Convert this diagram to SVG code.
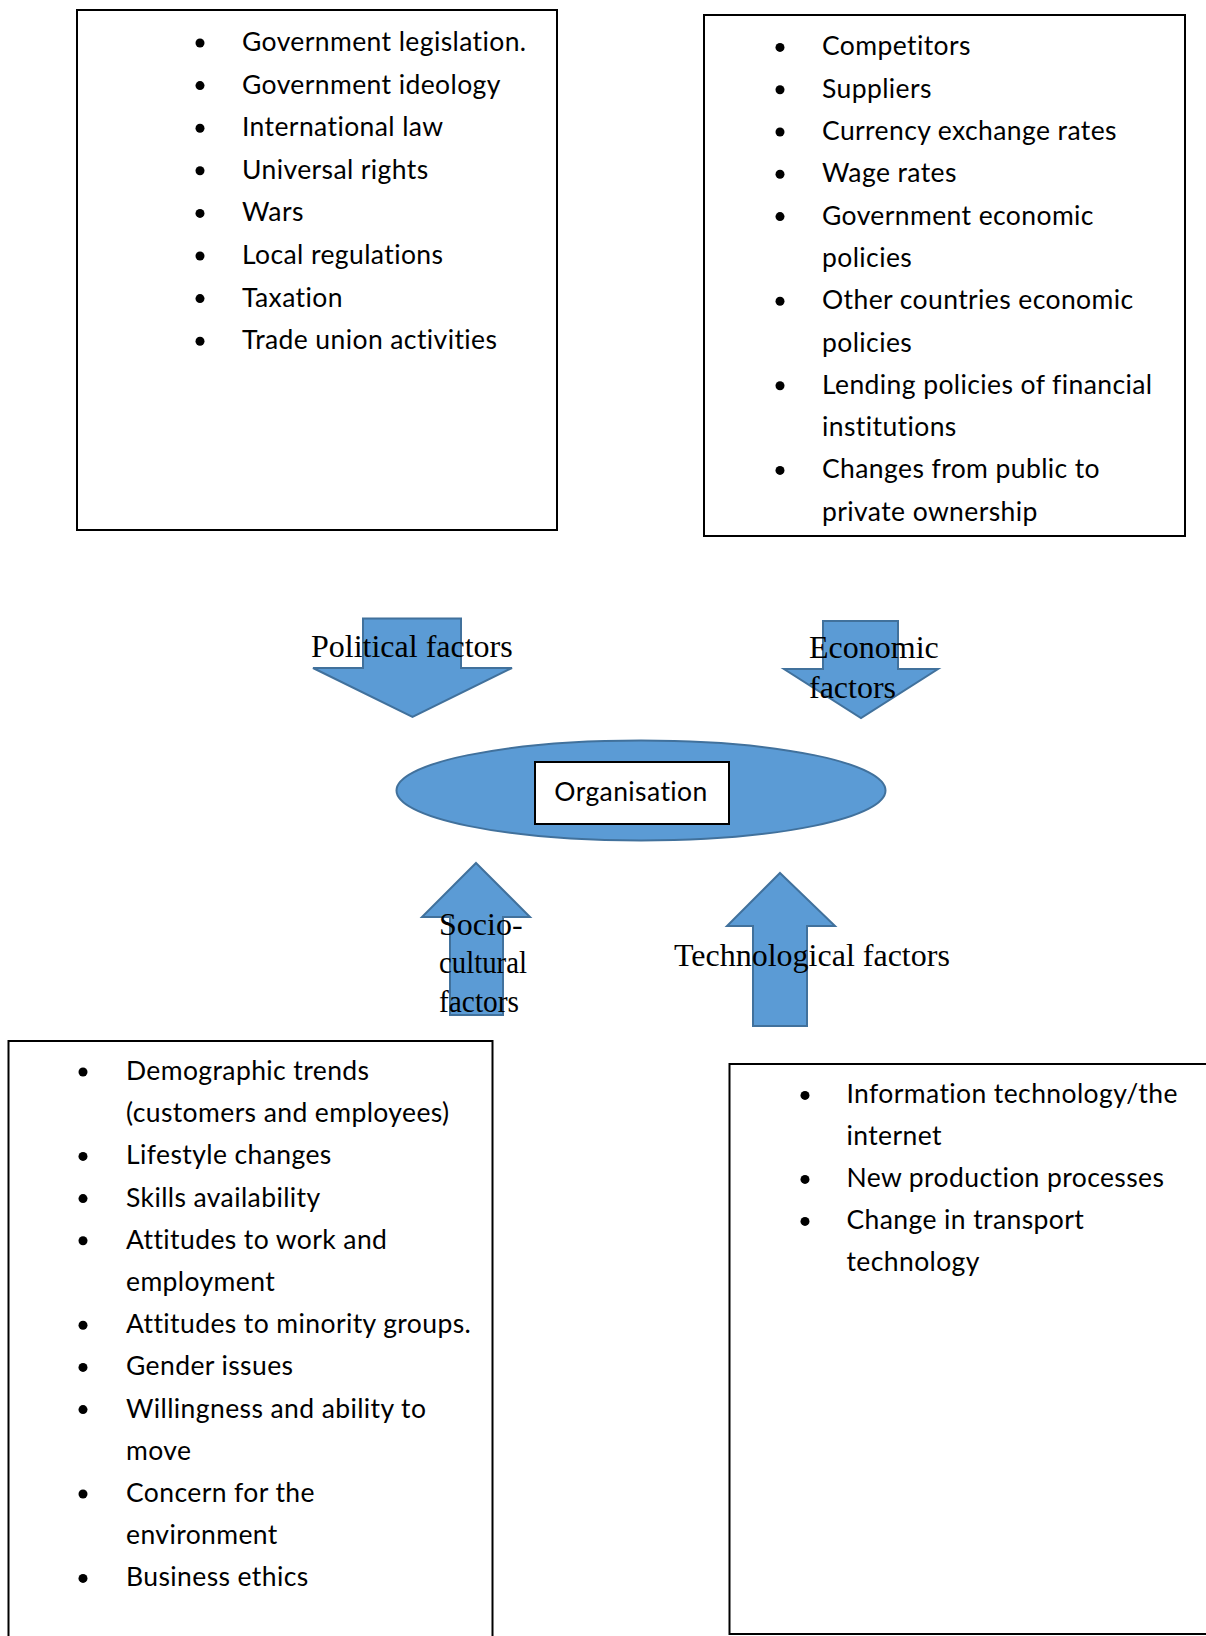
<svg xmlns="http://www.w3.org/2000/svg" width="1206" height="1636" viewBox="0 0 1206 1636">
<style>
.box{fill:#fff;stroke:#000;stroke-width:2}
.li{font-family:Lato,"Liberation Sans",sans-serif;font-size:26.5px;letter-spacing:0.4px;font-variant-ligatures:none;fill:#000}
.arr{fill:#5B9BD5;stroke:#41719C;stroke-width:2}
.lab{font-family:"Liberation Serif","Times New Roman",serif;font-size:32px;fill:#000}
.bul{fill:#000}
</style>
<rect width="1206" height="1636" fill="#fff"/>
<g id="political-box">
<rect class="box" x="77" y="10" width="480" height="520"/>
<g class="bul"><circle cx="200" cy="43" r="4.5"/><circle cx="200" cy="85.6" r="4.5"/><circle cx="200" cy="128.2" r="4.5"/><circle cx="200" cy="170.8" r="4.5"/><circle cx="200" cy="213.4" r="4.5"/><circle cx="200" cy="256" r="4.5"/><circle cx="200" cy="298.6" r="4.5"/><circle cx="200" cy="341.2" r="4.5"/></g>
<text class="li" x="242" y="51">Government legislation.</text>
<text class="li" x="242" y="93.6">Government ideology</text>
<text class="li" x="242" y="136.2">International law</text>
<text class="li" x="242" y="178.8">Universal rights</text>
<text class="li" x="242" y="221.4">Wars</text>
<text class="li" x="242" y="264">Local regulations</text>
<text class="li" x="242" y="306.6">Taxation</text>
<text class="li" x="242" y="349.2">Trade union activities</text>
</g>
<g id="economic-box">
<rect class="box" x="704" y="15" width="481" height="521"/>
<g class="bul"><circle cx="780" cy="47.4" r="4.5"/><circle cx="780" cy="89.7" r="4.5"/><circle cx="780" cy="132" r="4.5"/><circle cx="780" cy="174.3" r="4.5"/><circle cx="780" cy="216.6" r="4.5"/><circle cx="780" cy="301.2" r="4.5"/><circle cx="780" cy="385.8" r="4.5"/><circle cx="780" cy="470.4" r="4.5"/></g>
<text class="li" x="822" y="55.4">Competitors</text>
<text class="li" x="822" y="97.7">Suppliers</text>
<text class="li" x="822" y="140">Currency exchange rates</text>
<text class="li" x="822" y="182.3">Wage rates</text>
<text class="li" x="822" y="224.6">Government economic</text>
<text class="li" x="822" y="266.9">policies</text>
<text class="li" x="822" y="309.2">Other countries economic</text>
<text class="li" x="822" y="351.5">policies</text>
<text class="li" x="822" y="393.8">Lending policies of financial</text>
<text class="li" x="822" y="436.1">institutions</text>
<text class="li" x="822" y="478.4">Changes from public to</text>
<text class="li" x="822" y="520.7">private ownership</text>
</g>
<g id="socio-box">
<rect class="box" x="8.5" y="1041" width="484" height="640"/>
<g class="bul"><circle cx="83" cy="1072" r="4.5"/><circle cx="83" cy="1156.4" r="4.5"/><circle cx="83" cy="1198.6" r="4.5"/><circle cx="83" cy="1240.8" r="4.5"/><circle cx="83" cy="1325.2" r="4.5"/><circle cx="83" cy="1367.4" r="4.5"/><circle cx="83" cy="1409.6" r="4.5"/><circle cx="83" cy="1494" r="4.5"/><circle cx="83" cy="1578.4" r="4.5"/></g>
<text class="li" x="126" y="1080">Demographic trends</text>
<text class="li" x="126" y="1122.2">(customers and employees)</text>
<text class="li" x="126" y="1164.4">Lifestyle changes</text>
<text class="li" x="126" y="1206.6">Skills availability</text>
<text class="li" x="126" y="1248.8">Attitudes to work and</text>
<text class="li" x="126" y="1291">employment</text>
<text class="li" x="126" y="1333.2">Attitudes to minority groups.</text>
<text class="li" x="126" y="1375.4">Gender issues</text>
<text class="li" x="126" y="1417.6">Willingness and ability to</text>
<text class="li" x="126" y="1459.8">move</text>
<text class="li" x="126" y="1502">Concern for the</text>
<text class="li" x="126" y="1544.2">environment</text>
<text class="li" x="126" y="1586.4">Business ethics</text>
</g>
<g id="technological-box">
<rect class="box" x="729.5" y="1064" width="500" height="570"/>
<g class="bul"><circle cx="805" cy="1095.4" r="4.5"/><circle cx="805" cy="1179.4" r="4.5"/><circle cx="805" cy="1221.4" r="4.5"/></g>
<text class="li" x="846.5" y="1103.4">Information technology/the</text>
<text class="li" x="846.5" y="1145.4">internet</text>
<text class="li" x="846.5" y="1187.4">New production processes</text>
<text class="li" x="846.5" y="1229.4">Change in transport</text>
<text class="li" x="846.5" y="1271.4">technology</text>
</g>
<g id="connectors">
<polygon id="arrow-political" class="arr" points="363,618.5 461,618.5 461,668 512,668 412.5,717 313,668 363,668"/>
<polygon id="arrow-economic" class="arr" points="823,621 898,621 898,669 938,669 861,718 784,669 823,669"/>
<polygon id="arrow-socio" class="arr" points="476,863 530,917 503,917 503,1015 450,1015 450,917 422,917"/>
<polygon id="arrow-tech" class="arr" points="780,873 835,926 807,926 807,1026 753,1026 753,926 727,926"/>
</g>
<g id="organisation">
<ellipse class="arr" cx="641" cy="790.5" rx="244.5" ry="50"/>
<rect class="box" x="535" y="762" width="194" height="62"/>
<text class="li" x="631" y="800.5" text-anchor="middle">Organisation</text>
</g>
<g id="labels">
<text class="lab" x="311" y="656.5">Political factors</text>
<text class="lab" x="809" y="658">Economic</text>
<text class="lab" x="809" y="698">factors</text>
<text class="lab" x="439" y="935">Socio-</text>
<text class="lab" x="439" y="973" textLength="88" lengthAdjust="spacingAndGlyphs">cultural</text>
<text class="lab" x="439" y="1011.5" textLength="80" lengthAdjust="spacingAndGlyphs">factors</text>
<text class="lab" x="674" y="966">Technological factors</text>
</g>
</svg>
